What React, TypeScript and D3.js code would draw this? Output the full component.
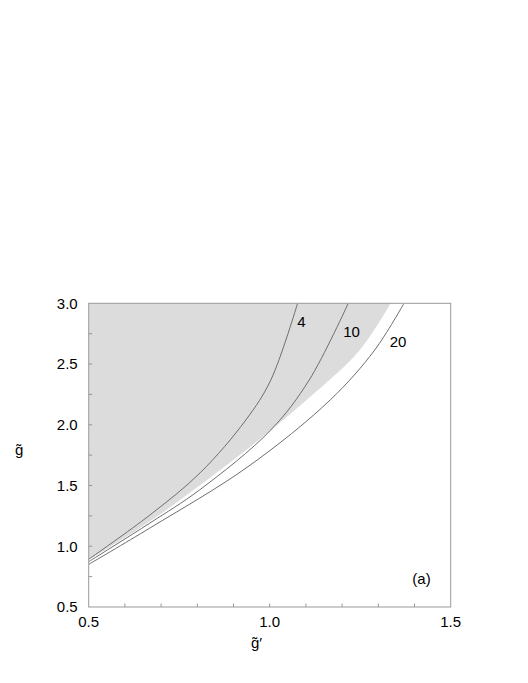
import React from "react";
import * as d3 from "d3";

const xTicks = [0.5, 1.0, 1.5];
const yTicks = [0.5, 1.0, 1.5, 2.0, 2.5, 3.0];
const xMinor = [0.6, 0.7, 0.8, 0.9, 1.0, 1.1, 1.2, 1.3, 1.4];
const yMinor = [0.75, 1.0, 1.25, 1.5, 1.75, 2.0, 2.25, 2.5, 2.75];

// points ordered along each curve (x = g̃', y = g̃)
const curve4X = [0.5, 0.669, 0.808, 0.934, 1.003, 1.077];
const curve4Y = [0.893, 1.257, 1.605, 2.039, 2.368, 3.0];

const curve10X = [0.5, 0.669, 0.806, 1.003, 1.109, 1.217];
const curve10Y = [0.873, 1.191, 1.463, 1.957, 2.368, 3.0];

const curve20X = [0.5, 0.669, 0.94, 1.167, 1.29, 1.371];
const curve20Y = [0.851, 1.15, 1.655, 2.204, 2.615, 3.0];

const boundaryX = [0.5, 0.669, 0.908, 1.102, 1.249, 1.334];
const boundaryY = [0.885, 1.205, 1.73, 2.204, 2.615, 3.0];

const curveLabels = ["4", "10", "20"];

export default function App() {
  const W = 528, H = 683;
  const x = d3.scaleLinear().domain([0.5, 1.5]).range([88.7, 450.7]);
  const y = d3.scaleLinear().domain([0.5, 3.0]).range([607, 303.3]);

  const toPts = (xs: number[], ys: number[]) => xs.map((v, i) => [v, ys[i]] as [number, number]);
  const smooth = d3.curveCatmullRom.alpha(0.5);
  const line = d3.line<[number, number]>().x(d => x(d[0])).y(d => y(d[1])).curve(smooth);
  const area = d3.area<[number, number]>()
    .x(d => x(d[0]))
    .y0(() => y(3.0))
    .y1(d => y(d[1]))
    .curve(smooth);

  const curves = [toPts(curve4X, curve4Y), toPts(curve10X, curve10Y), toPts(curve20X, curve20Y)];
  const labelPos = [[301.5, 327], [351.5, 337], [398, 347]];
  const frame = "#999";
  const font = "'Liberation Sans', Arial, 'DejaVu Sans', sans-serif";

  return (
    <svg width={W} height={H} style={{ position: "absolute", left: 0, top: 0 }} fontFamily={font}>
      <defs>
        <clipPath id="plot">
          <rect x={x(0.5)} y={y(3.0)} width={x(1.5) - x(0.5)} height={y(0.5) - y(3.0)} />
        </clipPath>
      </defs>
      <g clipPath="url(#plot)">
        <path d={area(toPts(boundaryX, boundaryY)) || ""} fill="#dcdcdc" />
        {curves.map((c, i) => (
          <path key={i} d={line(c) || ""} fill="none" stroke="#6e6e6e" strokeWidth={1} />
        ))}
      </g>
      <rect x={x(0.5)} y={y(3.0)} width={x(1.5) - x(0.5)} height={y(0.5) - y(3.0)} fill="none" stroke={frame} strokeWidth={1} />
      {xMinor.map(t => (
        <line key={"xm" + t} x1={x(t)} x2={x(t)} y1={y(0.5)} y2={y(0.5) - 3.5} stroke={frame} />
      ))}
      {yMinor.map(t => (
        <line key={"ym" + t} x1={x(0.5)} x2={x(0.5) + 3.5} y1={y(t)} y2={y(t)} stroke={frame} />
      ))}
      {xTicks.map(t => (
        <text key={"xt" + t} x={x(t)} y={y(0.5) + 20} textAnchor="middle" fontSize={15} fill="#000">
          {t.toFixed(1)}
        </text>
      ))}
      {yTicks.map(t => (
        <text key={"yt" + t} x={x(0.5) - 11} y={y(t) + 5.3} textAnchor="end" fontSize={15} fill="#000">
          {t.toFixed(1)}
        </text>
      ))}
      {curveLabels.map((l, i) => (
        <text key={l} x={labelPos[i][0]} y={labelPos[i][1]} textAnchor="middle" fontSize={15} fill="#000">
          {l}
        </text>
      ))}
      <text x={421.5} y={584} textAnchor="middle" fontSize={15} fill="#000">(a)</text>
      <text x={251} y={648} fontSize={15} fill="#000">{"g\u0303\u2032"}</text>
      <text x={15} y={454.5} fontSize={15} fill="#000">{"g\u0303"}</text>
    </svg>
  );
}
